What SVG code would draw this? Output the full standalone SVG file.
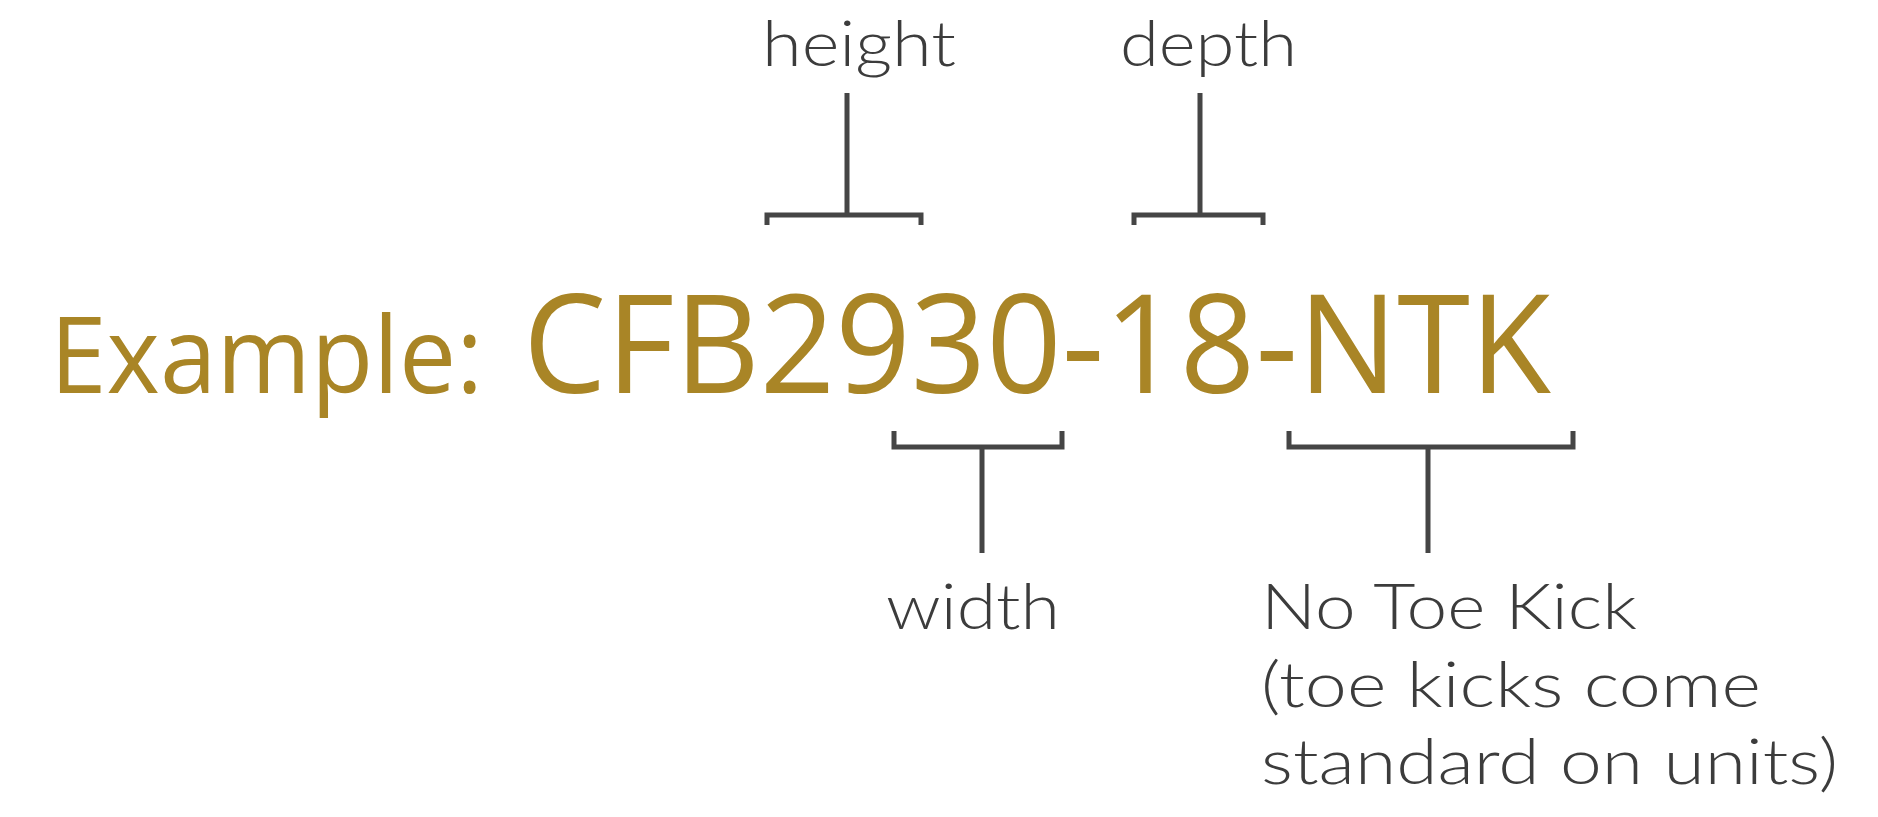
<svg xmlns="http://www.w3.org/2000/svg" width="1878" height="817" viewBox="0 0 1878 817">
<style>
.lbl{font-family:Lato,"Open Sans","Liberation Sans",sans-serif;font-weight:300;font-size:64px;fill:#3c3c3c}
.main{font-family:"Open Sans",Lato,"Liberation Sans",sans-serif;fill:#a98526}
.br{fill:none;stroke:#454545;stroke-width:5;stroke-linecap:butt;stroke-linejoin:miter}
</style>
<rect width="1878" height="817" fill="#ffffff"/>
<g id="code">
<text class="main" x="50" y="393" font-size="106" textLength="433" lengthAdjust="spacingAndGlyphs">Example:</text>
<text class="main" x="523" y="393" font-size="138" textLength="1028" lengthAdjust="spacingAndGlyphs">CFB2930-18-NTK</text>
</g>
<g id="height"><text class="lbl" x="762" y="66" textLength="194" lengthAdjust="spacingAndGlyphs">height</text></g>
<g id="depth"><text class="lbl" x="1120" y="66" textLength="177" lengthAdjust="spacingAndGlyphs">depth</text></g>
<g id="width"><text class="lbl" x="886" y="629" textLength="174" lengthAdjust="spacingAndGlyphs">width</text></g>
<g id="ntk">
<text class="lbl" x="1261" y="629" textLength="376" lengthAdjust="spacingAndGlyphs">No Toe Kick</text>
<text class="lbl" x="1261" y="707" textLength="500" lengthAdjust="spacingAndGlyphs">(toe kicks come</text>
<text class="lbl" x="1261" y="784" textLength="577" lengthAdjust="spacingAndGlyphs">standard on units)</text>
</g>
<g id="connectors">
<path class="br" d="M847 93V215M767 225V215H921V225"/>
<path class="br" d="M1200 93V215M1134 225V215H1263V225"/>
<path class="br" d="M982 553V447M894 431V447H1062V431"/>
<path class="br" d="M1428 553V447M1289 431V447H1573V431"/>
</g>
</svg>
